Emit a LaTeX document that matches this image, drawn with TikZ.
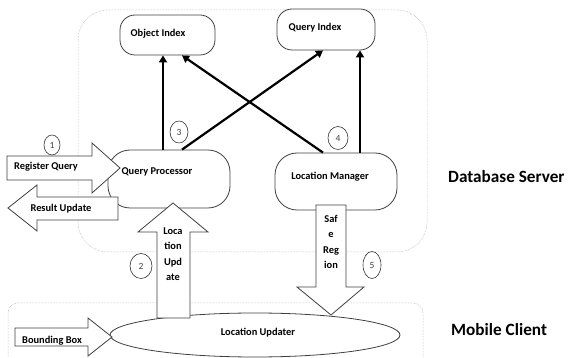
\documentclass[tikz,border=0pt]{standalone}
\usepackage{fontspec}
\setmainfont{Carlito}
\usetikzlibrary{arrows.meta,shapes.geometric,calc}
\begin{document}
\begin{tikzpicture}[x=1pt,y=-1pt,
  groupbox/.style={draw=black!35, densely dotted, line width=0.5pt},
  procbox/.style={draw=black!75, line width=0.8pt, fill=white},
  ptext/.style={font=\bfseries\fontsize{10.4}{11}\selectfont, inner sep=0pt},
  stacked/.style={align=center, font=\bfseries\fontsize{10.4}{15.5}\selectfont},
  numcirc/.style={ellipse, draw=black!80, line width=0.6pt, inner sep=0pt, font=\fontsize{9.5}{10}\selectfont, text=black!75},
  blockarrow/.style={draw=black!75, line width=0.8pt, fill=white, line join=miter},
  flow/.style={line width=2.2pt, -{Triangle[length=7pt,width=8pt]}},
  sidelabel/.style={font=\bfseries\fontsize{17.2}{20}\selectfont, inner sep=0pt}
]
\useasboundingbox (0,0) rectangle (568,358);
% group boxes
\draw[groupbox, rounded corners=30pt] (78,10) rectangle (427,252);
\draw[groupbox, rounded corners=10pt] (8,303) rectangle (423,370);

% component nodes
\node[procbox, rounded corners=15pt, minimum width=95pt, minimum height=40pt] (oi) at (167.5,35) {};
\node[ptext] at (158,34) {Object Index};
\node[procbox, rounded corners=15pt, minimum width=98pt, minimum height=41pt] (qi) at (326,29.5) {};
\node[ptext] at (315,28) {Query Index};
\node[procbox, rounded corners=22pt, minimum width=122pt, minimum height=58pt] (qp) at (169,179) {};
\node[ptext] at (157,172) {Query Processor};
\node[procbox, rounded corners=22pt, minimum width=122pt, minimum height=57pt] (lm) at (336,181.5) {};
\node[ptext] at (330,177) {Location Manager};
\node[procbox, ellipse, minimum width=290pt, minimum height=44pt] (lu) at (255,335) {};
\node[ptext] at (258,333) {Location Updater};

% thick flows
\draw[flow] ([xshift=-6pt]qp.north) -- ([xshift=-4.5pt]oi.south);
\draw[flow] ([xshift=13pt]qp.north) -- ([xshift=-3pt]qi.south);
\draw[flow] ([xshift=-13pt]lm.north) -- ([xshift=14.5pt]oi.south);
\draw[flow] ([xshift=24pt]lm.north) -- ([xshift=34pt]qi.south);

% block arrows
\draw[blockarrow] (7,156) -- (92,156) -- (92,143) -- (120,168) -- (92,193) -- (92,180) -- (7,180) -- cycle;
\node[ptext] (rq) at (46,167) {Register Query};
\draw[blockarrow] (8,208) -- (37,185) -- (37,197) -- (118,197) -- (118,220) -- (37,220) -- (37,231) -- cycle;
\node[ptext] (ru) at (61,209) {Result Update};
\draw[blockarrow] (173,203) -- (208,232) -- (190,232) -- (190,318) -- (157,318) -- (157,232) -- (138,232) -- cycle;
\node[ptext, stacked] (lup) at (173,254) {Loca\\tion\\Upd\\ate};
\draw[blockarrow] (316,205) -- (346,205) -- (346,287) -- (364,287) -- (331,315) -- (297,287) -- (316,287) -- cycle;
\node[ptext, stacked] (sr) at (331,242) {Saf\\e\\Reg\\ion};
\draw[blockarrow] (15,328) -- (88,328) -- (88,318) -- (112,337) -- (88,356) -- (88,346) -- (15,346) -- cycle;
\node[ptext] (bb) at (52,341) {Bounding Box};

% numbered markers
\node[numcirc, minimum width=16pt, minimum height=20pt] (n1) at (52,145) {1};
\node[numcirc, minimum width=22pt, minimum height=25pt] (n2) at (141,266) {2};
\node[numcirc, minimum width=18pt, minimum height=22pt] (n3) at (179,132) {3};
\node[numcirc, minimum width=20pt, minimum height=23pt] (n4) at (338,138) {4};
\node[numcirc, minimum width=18pt, minimum height=27pt] (n5) at (372,265) {5};

% side labels
\node[sidelabel, anchor=west] (db) at (448,177) {Database Server};
\node[sidelabel, anchor=west] (mc) at (451,330) {Mobile Client};
\end{tikzpicture}
\end{document}
